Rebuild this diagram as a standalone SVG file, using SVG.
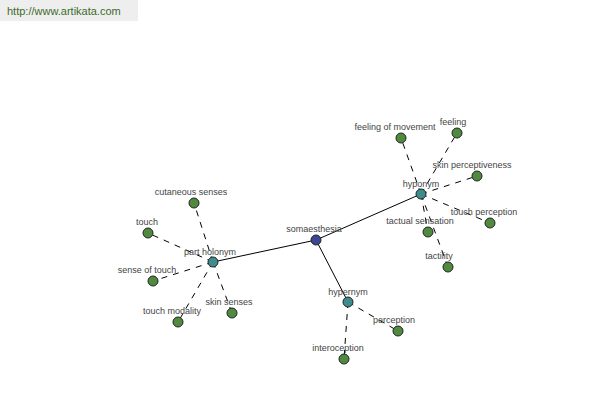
<svg xmlns="http://www.w3.org/2000/svg" width="600" height="400" viewBox="0 0 600 400">
<style>
text{font-family:"Liberation Sans",Arial,sans-serif;font-size:9px;fill:#444;text-anchor:middle}
.w{font-size:11px;fill:#3d6b2c;text-anchor:start}
.s{stroke:#000;stroke-width:1;fill:none}
.d{stroke:#000;stroke-width:1;stroke-dasharray:6,6;fill:none}
.root{fill:#3b4790;stroke:#222;stroke-width:1}
.hub{fill:#3f8c8c;stroke:#222;stroke-width:1}
.leaf{fill:#4f8a3e;stroke:#222;stroke-width:1}
</style>
<rect width="600" height="400" fill="#fff"/>
<rect x="0" y="0" width="138" height="21" fill="#eeeeee"/>
<text class="w" x="7" y="15">http://www.artikata.com</text>
<g id="connectors">
<line class="s" x1="316" y1="240" x2="421" y2="194"/>
<line class="s" x1="316" y1="240" x2="213" y2="262"/>
<line class="s" x1="316" y1="240" x2="348" y2="302"/>
<line class="d" x1="421" y1="194" x2="401" y2="138"/>
<line class="d" x1="421" y1="194" x2="457" y2="133"/>
<line class="d" x1="421" y1="194" x2="477" y2="176"/>
<line class="d" x1="421" y1="194" x2="490" y2="223"/>
<line class="d" x1="421" y1="194" x2="428" y2="232"/>
<line class="d" x1="421" y1="194" x2="448" y2="267"/>
<line class="d" x1="213" y1="262" x2="194" y2="203"/>
<line class="d" x1="213" y1="262" x2="148" y2="233"/>
<line class="d" x1="213" y1="262" x2="153" y2="281"/>
<line class="d" x1="213" y1="262" x2="178" y2="322"/>
<line class="d" x1="213" y1="262" x2="232" y2="313"/>
<line class="d" x1="348" y1="302" x2="398" y2="331"/>
<line class="d" x1="348" y1="302" x2="344" y2="359"/>
</g>
<g id="n-somaesthesia"><circle class="root" cx="316" cy="240" r="5"/><text x="314" y="232">somaesthesia</text></g>
<g id="n-hyponym"><circle class="hub" cx="421" cy="194" r="5"/><text x="421" y="187">hyponym</text></g>
<g id="n-partholonym"><circle class="hub" cx="213" cy="262" r="5"/><text x="210" y="255">part holonym</text></g>
<g id="n-hypernym"><circle class="hub" cx="348" cy="302" r="5"/><text x="348" y="295">hypernym</text></g>
<g id="n-feelingofmovement"><circle class="leaf" cx="401" cy="138" r="5"/><text x="395" y="130">feeling of movement</text></g>
<g id="n-feeling"><circle class="leaf" cx="457" cy="133" r="5"/><text x="453" y="125">feeling</text></g>
<g id="n-skinperceptiveness"><circle class="leaf" cx="477" cy="176" r="5"/><text x="472" y="168">skin perceptiveness</text></g>
<g id="n-touchperception"><circle class="leaf" cx="490" cy="223" r="5"/><text x="484" y="215">touch perception</text></g>
<g id="n-tactualsensation"><circle class="leaf" cx="428" cy="232" r="5"/><text x="420" y="224">tactual sensation</text></g>
<g id="n-tactility"><circle class="leaf" cx="448" cy="267" r="5"/><text x="439" y="259">tactility</text></g>
<g id="n-cutaneoussenses"><circle class="leaf" cx="194" cy="203" r="5"/><text x="191" y="195">cutaneous senses</text></g>
<g id="n-touch"><circle class="leaf" cx="148" cy="233" r="5"/><text x="147" y="225">touch</text></g>
<g id="n-senseoftouch"><circle class="leaf" cx="153" cy="281" r="5"/><text x="147" y="273">sense of touch</text></g>
<g id="n-touchmodality"><circle class="leaf" cx="178" cy="322" r="5"/><text x="172" y="314">touch modality</text></g>
<g id="n-skinsenses"><circle class="leaf" cx="232" cy="313" r="5"/><text x="229" y="305">skin senses</text></g>
<g id="n-perception"><circle class="leaf" cx="398" cy="331" r="5"/><text x="394" y="323">perception</text></g>
<g id="n-interoception"><circle class="leaf" cx="344" cy="359" r="5"/><text x="338" y="351">interoception</text></g>
</svg>
